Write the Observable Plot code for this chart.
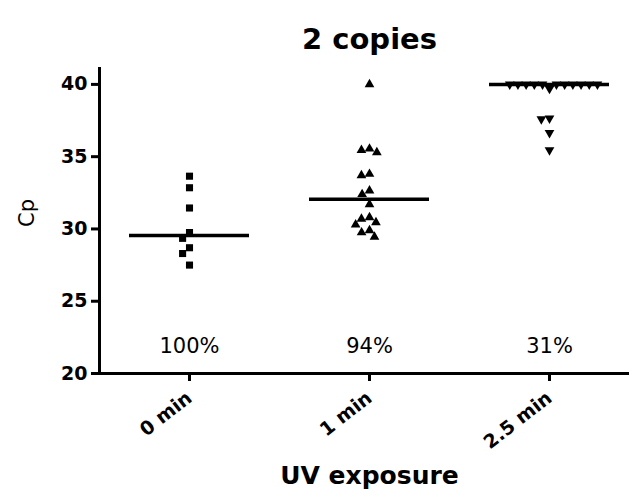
<!DOCTYPE html>
<html><head><meta charset="utf-8">
<script src="https://cdn.jsdelivr.net/npm/d3@7"></script>
<script src="https://cdn.jsdelivr.net/npm/@observablehq/plot@0.6"></script>
<style>body{margin:0;background:#fff}</style>
</head><body><div id="chart"></div>
<script>
const groups = ["0 min", "1 min", "2.5 min"];
const cp0 = [33.65, 32.85, 31.45, 29.75, 29.35, 28.7, 28.3, 27.5];
const cp1 = [40.0, 35.55, 35.45, 35.3, 33.8, 33.7, 32.65, 32.4, 31.7, 30.8, 30.7, 30.45, 30.3, 29.9, 29.75, 29.45];
const cp2 = [39.7, 40, 40, 40, 40, 40, 40, 40, 40, 40, 40, 40, 37.65, 37.6, 36.65, 35.45];
const percents = ["100%", "94%", "31%"];
const yTicks = [20, 25, 30, 35, 40];
const title = "2 copies";
const xLabel = "UV exposure";
const yLabel = "Cp";

const series = [cp0, cp1, cp2];
const pointsOf = i => series[i].map(v => ({group: groups[i], cp: v}));
const medians = groups.map((g, i) => ({group: g, median: d3.median(series[i])}));
const pct = groups.map((g, i) => ({group: g, text: percents[i]}));

const font = "DejaVu Sans, sans-serif";
const chart = Plot.plot({
  width: 629, height: 500,
  marginTop: 68, marginBottom: 127, marginLeft: 99, marginRight: 0,
  style: {fontFamily: font, background: "white", overflow: "hidden", color: "black"},
  fx: {domain: groups, range: [99, 639], padding: 0},
  y: {domain: [20, 41.1]},
  marks: [
    Plot.frame({anchor: "left", facetAnchor: "left", strokeWidth: 3}),
    Plot.frame({anchor: "bottom", strokeWidth: 3}),
    Plot.axisY({ticks: yTicks, tickSize: 8, strokeWidth: 3, tickPadding: 4, fontSize: 19, fontWeight: "bold", label: null}),
    Plot.axisFx({anchor: "bottom", tickSize: 8, strokeWidth: 3, tickPadding: 14, tickRotate: -38, fontSize: 19, fontWeight: "bold", label: null}),
    Plot.dot(pointsOf(0), Plot.dodgeX("middle", {fx: "group", y: "cp", symbol: "square", r: 4, padding: 1, fill: "black"})),
    Plot.dot(pointsOf(1), Plot.dodgeX("middle", {fx: "group", y: "cp", symbol: "triangle", r: 3.6, padding: 0.5, fill: "black"})),
    Plot.dot(pointsOf(2), Plot.dodgeX("middle", {fx: "group", y: "cp", symbol: "triangle", rotate: 180, r: 3.6, padding: 3.4, fill: "black"})),
    Plot.ruleY(medians, {fx: "group", y: "median", insetLeft: 30, insetRight: 30, strokeWidth: 3.5}),
    Plot.text(pct, {fx: "group", text: "text", frameAnchor: "bottom", dy: -21, fontSize: 21}),
    Plot.text([{group: groups[1], t: title}], {fx: "group", text: "t", frameAnchor: "top", dy: -40, fontSize: 29, fontWeight: "bold"}),
    Plot.text([{group: groups[1], t: xLabel}], {fx: "group", text: "t", frameAnchor: "bottom", dy: 110, fontSize: 25, fontWeight: "bold"}),
    Plot.text([yLabel], {frameAnchor: "left", facetAnchor: "left", dx: -72, dy: 6, rotate: -90, fontSize: 21})
  ]
});
document.getElementById("chart").appendChild(chart);
</script>
</body></html>
